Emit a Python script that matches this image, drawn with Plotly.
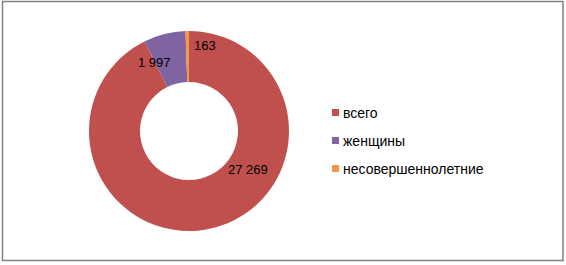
import plotly.graph_objects as go

categories = ["всего", "женщины", "несовершеннолетние"]
values = [27269, 1997, 163]
colors = ["#C0504D", "#8064A2", "#F79646"]

W, H = 566, 265

def fmt(v):
    return f"{v:,}".replace(",", " ")

# pie geometry (pixels)
cx, cy, R = 189, 131, 100

fig = go.Figure()
fig.add_trace(go.Pie(
    labels=categories,
    values=values,
    hole=0.49,
    sort=False,
    direction="clockwise",
    rotation=0,
    marker=dict(colors=colors, line=dict(width=0)),
    textinfo="none",
    hoverinfo="label+value",
    showlegend=False,
    domain=dict(x=[(cx - R) / W, (cx + R) / W], y=[1 - (cy + R) / H, 1 - (cy - R) / H]),
))

# data label positions (pixel centres)
label_pos = [(248, 169), (154, 63), (205, 46)]
annotations = []
for v, (px, py) in zip(values, label_pos):
    annotations.append(dict(
        x=px / W, y=1 - py / H, xref="paper", yref="paper",
        text=fmt(v), showarrow=False, xanchor="center", yanchor="middle",
        font=dict(family="Liberation Sans, Arial, sans-serif", size=13, color="#000000"),
    ))

shapes = [dict(type="rect", xref="paper", yref="paper",
               x0=2.5 / W, x1=563 / W, y0=1 - 260.5 / H, y1=1 - 1.5 / H,
               line=dict(color="#808080", width=1.5), fillcolor="rgba(0,0,0,0)")]

# manual legend
lx, ly0, dy, s = 332, 112.5, 28, 7
for i, (c, col) in enumerate(zip(categories, colors)):
    yc = ly0 + i * dy
    shapes.append(dict(type="rect", xref="paper", yref="paper",
                       x0=lx / W, x1=(lx + s) / W,
                       y0=1 - (yc + s / 2) / H, y1=1 - (yc - s / 2) / H,
                       line=dict(width=0), fillcolor=col))
    annotations.append(dict(
        x=(lx + s + 2) / W, y=1 - yc / H, xref="paper", yref="paper",
        text=c, showarrow=False, xanchor="left", yanchor="middle",
        font=dict(family="Liberation Sans, Arial, sans-serif", size=14, color="#000000"),
    ))

fig.update_layout(
    width=W, height=H,
    margin=dict(l=0, r=0, t=0, b=0),
    paper_bgcolor="white", plot_bgcolor="white",
    annotations=annotations, shapes=shapes,
)

fig.write_html("out.html")
